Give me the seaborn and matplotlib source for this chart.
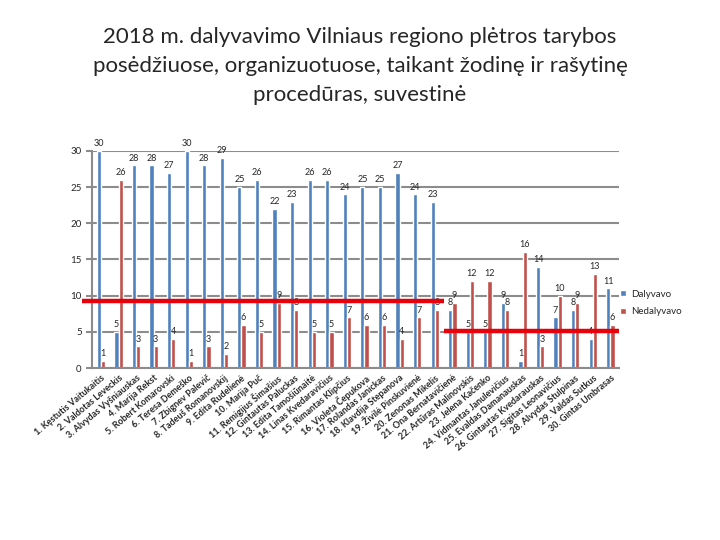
import numpy as np
import pandas as pd
import matplotlib
matplotlib.use('Agg')
import matplotlib.pyplot as plt
import seaborn as sns
from matplotlib.ticker import FixedLocator

# Data
names = [
    '1. Kęstutis Vaitukaitis', '2. Valdotas Leveckis', '3. Alvydas Vyšniauskas',
    '4. Marija Rekst', '5. Robert Komarovski', '6. Teresa Demeško',
    '7. Zbignev Palevič', '8. Tadeuš Romanovskij', '9. Edita Rudelienė',
    '10. Marija Puč', '11. Remigijus Šimašius', '12. Gintautas Paluckas',
    '13. Edita Tamošiūnaitė', '14. Linas Kvedaravičius', '15. Rimantas Klipčius',
    '16. Violeta Čepukova', '17. Rolandas Janickas', '18. Klavdija Stepanova',
    '19. Živilė Pinskuvienė', '20. Zenonas Mikelis', '21. Ona Bernatavičienė',
    '22. Artūras Malinovskis', '23. Jelena Kačenko', '24. Vidmantas Janulevičius',
    '25. Evaldas Damanauskas', '26. Gintautas Kvedarauskas', '27. Sigitas Leonavičius',
    '28. Alvydas Stulpinas', '29. Valdas Sutkus', '30. Gintas Umbrasas',
]
dalyvavo = [30, 5, 28, 28, 27, 30, 28, 29, 25, 26, 22, 23, 26, 26, 24,
            25, 25, 27, 24, 23, 8, 5, 5, 9, 1, 14, 7, 8, 4, 11]
nedalyvavo = [1, 26, 3, 3, 4, 1, 3, 2, 6, 5, 9, 8, 5, 5, 7,
              6, 6, 4, 7, 8, 9, 12, 12, 8, 16, 3, 10, 9, 13, 6]
# 30 % thresholds (31 meetings for members 1-20, 17 for 21-30)
threshold_values = [9.3, 5.1]
threshold_groups = [(0, 20), (20, 30)]

df = pd.DataFrame({
    'name': names * 2,
    'value': dalyvavo + nedalyvavo,
    'serija': ['Dalyvavo'] * len(names) + ['Nedalyvavo'] * len(names),
})

sns.set_style('white')
plt.rcParams['font.family'] = ['Lato', 'DejaVu Sans']

fig = plt.figure(figsize=(7.2, 5.4), dpi=100)
ax = fig.add_axes([0.128, 0.3185, 0.732, 0.4019])

sns.barplot(data=df, x='name', y='value', hue='serija', order=names,
            palette={'Dalyvavo': '#4F81BD', 'Nedalyvavo': '#C0504D'},
            width=0.48, gap=0.0, dodge=True, saturation=1, ax=ax, legend=True)

for cont in ax.containers:
    ax.bar_label(cont, fontsize=6.5, padding=2, clip_on=False)

ax.set_ylim(0, 30)
ax.set_xlim(-0.5, len(names) - 0.5)
ax.set_yticks(range(0, 31, 5))
ax.yaxis.grid(True, color='#8C8C8C', linewidth=1.5)
ax.set_axisbelow(True)
for s in ['top', 'right']:
    ax.spines[s].set_visible(False)
for s in ['left', 'bottom']:
    ax.spines[s].set_color('#8C8C8C')
    ax.spines[s].set_linewidth(1.5)

ax.set_xticks(range(len(names)))
ax.set_xticklabels(names, rotation=40, ha='right', rotation_mode='anchor',
                   fontsize=6.5, fontweight='bold')
ax.tick_params(axis='x', which='major', length=0, pad=4)
ax.xaxis.set_minor_locator(FixedLocator(np.arange(-0.5, len(names), 1.0)))
ax.tick_params(axis='x', which='minor', length=4, color='#8C8C8C', width=1.5)
ax.tick_params(axis='y', length=4, color='#8C8C8C', width=1.5, labelsize=7, left=True)
ax.set_xlabel('')
ax.set_ylabel('')

# threshold lines
for val, (a, b) in zip(threshold_values, threshold_groups):
    start = a - 0.5 - (0.55 if a == 0 else 0)
    ax.plot([start, b - 0.5], [val, val], color='#E8000B', linewidth=3.2,
            clip_on=False, zorder=5, solid_capstyle='butt')

handles, labels = ax.get_legend_handles_labels()
ax.legend(handles, labels, loc='center left', bbox_to_anchor=(0.985, 0.30),
          frameon=False, fontsize=7, handlelength=0.6, handleheight=0.6,
          handletextpad=0.5, labelspacing=0.9)

fig.suptitle('2018 m. dalyvavimo Vilniaus regiono plėtros tarybos\n'
             'posėdžiuose, organizuotuose, taikant žodinę ir rašytinę\n'
             'procedūras, suvestinė', y=0.95, va='top', fontsize=16,
             linespacing=1.55)

fig.savefig('out.png', dpi=100)
